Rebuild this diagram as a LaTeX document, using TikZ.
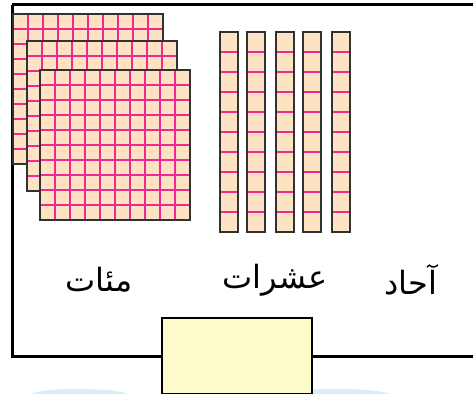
\documentclass[tikz,border=0pt]{standalone}
\usepackage{fontspec}
\TeXXeTstate=1
\newfontfamily\arabicfont[Script=Arabic]{DejaVu Sans}
\definecolor{peach}{RGB}{253,226,196}
\definecolor{gridpink}{RGB}{240,40,145}
\definecolor{edgegray}{RGB}{50,50,50}
\definecolor{paleyellow}{RGB}{255,252,204}
\definecolor{paleblue}{RGB}{214,237,251}
\tikzset{
  gridline/.style={draw=gridpink,line width=1.5pt},
  rodline/.style={draw=gridpink,line width=1.8pt},
  edge/.style={draw=edgegray,line width=2pt},
  frame/.style={draw=black,line width=3pt},
  label/.style={font=\arabicfont\fontsize{32}{38}\selectfont,inner sep=0pt},
}
\newcommand{\hundredsq}[2]{%
  \fill[peach] (#1,#2) rectangle ++(150,150);
  \foreach \k in {1,...,9} {
    \draw[gridline] (#1+15*\k,#2) -- ++(0,150);
    \draw[gridline] (#1,#2+15*\k) -- ++(150,0);
  }
  \draw[edge] (#1,#2) rectangle ++(150,150);
}
\newcommand{\tenrod}[1]{%
  \fill[peach] (#1,32) rectangle ++(18,200);
  \foreach \k in {1,...,9} {
    \draw[rodline] (#1,32+20*\k) -- ++(18,0);
  }
  \draw[edge,line width=2.4pt] (#1,32) rectangle ++(18,200);
}
\begin{document}
\begin{tikzpicture}[x=1pt,y=-1pt]
\useasboundingbox (0,0) rectangle (473,393);
\begin{scope}
\clip (0,0) rectangle (473,393);
% faint shapes at bottom
\fill[paleblue] (79,395) ellipse (49 and 6);
\fill[paleblue] (334,395) ellipse (56 and 6);
% frame
\draw[frame] (12,5) -- (480,5);
\draw[frame] (12,5) -- (12,356) -- (480,356);
% hundreds
\hundredsq{13}{14}
\hundredsq{27}{41}
\hundredsq{40}{70}
% tens
\tenrod{220}
\tenrod{247}
\tenrod{276}
\tenrod{303}
\tenrod{332}
% yellow box
\node[draw=black,line width=2.4pt,fill=paleyellow,minimum width=150pt,minimum height=76pt,inner sep=0pt,anchor=north west] (box) at (161,317) {};
\end{scope}
\node[label] (hund) at (99,280) {\beginR مئات\endR};
\node[label] (tens) at (275,280) {\beginR عشرات\endR};
\node[label] (ones) at (411,280) {\beginR آحاد\endR};
\end{tikzpicture}
\end{document}
